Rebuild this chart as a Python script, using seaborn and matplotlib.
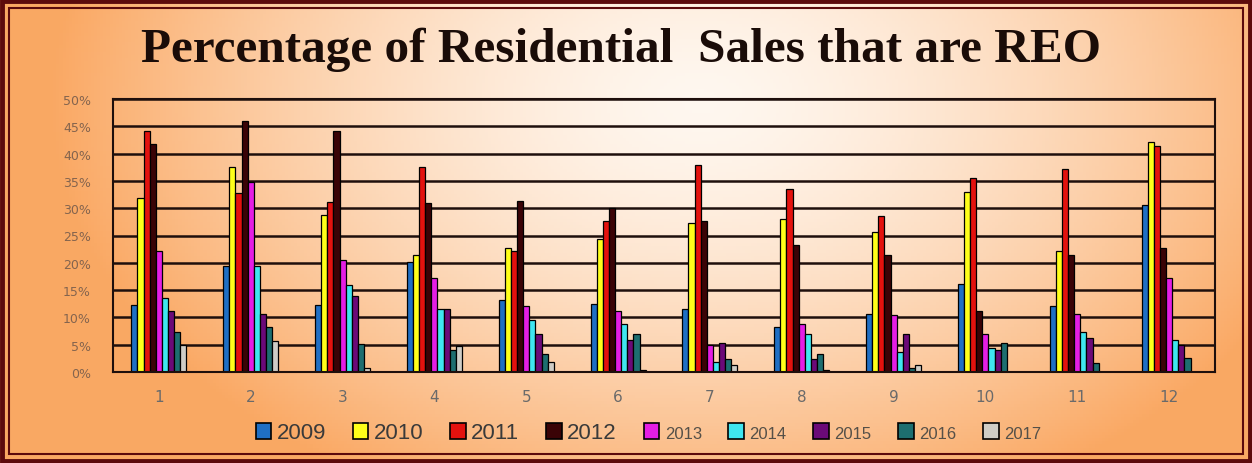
import numpy as np
import pandas as pd
import matplotlib
matplotlib.use('Agg')
import matplotlib.pyplot as plt
import seaborn as sns
from matplotlib.patches import Patch, Rectangle
from matplotlib.ticker import PercentFormatter

# data (percent of residential sales that are REO)
months = [str(m) for m in range(1, 13)]
years = ['2009', '2010', '2011', '2012', '2013', '2014', '2015', '2016', '2017']
y2009 = [12.3, 19.4, 12.3, 20.1, 13.2, 12.5, 11.6, 8.3, 10.7, 16.1, 12.0, 30.6]
y2010 = [31.9, 37.5, 28.8, 21.4, 22.7, 24.4, 27.2, 28.1, 25.6, 33.0, 22.2, 42.2]
y2011 = [44.2, 32.7, 31.2, 37.5, 22.2, 27.7, 38.0, 33.6, 28.6, 35.5, 37.2, 41.4]
y2012 = [41.7, 45.9, 44.2, 31.0, 31.4, 30.0, 27.7, 23.2, 21.5, 11.2, 21.5, 22.7]
y2013 = [22.2, 34.8, 20.5, 17.2, 12.0, 11.2, 4.9, 8.7, 10.4, 7.0, 10.7, 17.3]
y2014 = [13.5, 19.4, 16.0, 11.5, 9.6, 8.7, 1.9, 7.0, 3.7, 4.4, 7.4, 5.8]
y2015 = [11.2, 10.7, 14.0, 11.5, 7.0, 5.9, 5.4, 2.4, 7.0, 4.1, 6.3, 4.9]
y2016 = [7.4, 8.2, 5.2, 4.0, 3.3, 7.0, 2.4, 3.3, 0.7, 5.4, 1.7, 2.6]
y2017 = [4.9, 5.7, 0.7, 4.8, 1.9, 0.3, 1.3, 0.3, 1.2, 0.0, 0.0, 0.0]
series = [y2009, y2010, y2011, y2012, y2013, y2014, y2015, y2016, y2017]

colors = ['#1f6fc4', '#ffff1a', '#e3120e', '#3a0306', '#e41ee4',
          '#3fe6f0', '#6b0a78', '#1d6e70', '#cfcdc6']

df = pd.DataFrame({
    'month': np.repeat([months], len(years), axis=0).ravel(),
    'year': np.repeat(years, len(months)),
    'pct': np.concatenate(series),
})

fig = plt.figure(figsize=(12.52, 4.64), dpi=100)

# orange-to-cream background gradient
bg = fig.add_axes([0, 0, 1, 1], zorder=-10)
gx, gy = np.meshgrid(np.linspace(0, 1, 400), np.linspace(0, 1, 150))
d = np.sqrt(((gx - 0.56) / 0.52) ** 2 + ((gy - 0.78) / 0.95) ** 2)
t = np.clip(d, 0, 1) ** 1.5
light = np.array([1.0, 0.97, 0.94])
orange = np.array([0.98, 0.66, 0.39])
img = light[None, None, :] * (1 - t[..., None]) + orange[None, None, :] * t[..., None]
bg.imshow(img, extent=[0, 1, 0, 1], origin='lower', aspect='auto')
bg.set_axis_off()

# maroon double frame
fig.patches.append(Rectangle((2 / 1252, 2 / 464), 1248 / 1252, 460 / 464, transform=fig.transFigure,
                             fill=False, edgecolor='#5c0a0c', linewidth=3.5))
fig.patches.append(Rectangle((9 / 1252, 9 / 464), 1234 / 1252, 446 / 464, transform=fig.transFigure,
                             fill=False, edgecolor='#5c0a0c', linewidth=1.5))

ax = fig.add_axes([113 / 1252, 1 - 373 / 464, 1102 / 1252, 273 / 464])
ax.set_facecolor('none')
sns.barplot(data=df, x='month', y='pct', hue='year', palette=colors, width=0.6,
            edgecolor='black', linewidth=0.9, saturation=1, legend=False, ax=ax)

ax.set_ylim(0, 50)
ax.set_yticks(np.arange(0, 51, 5))
ax.yaxis.set_major_formatter(PercentFormatter(decimals=0))
ax.set_xlim(-0.5, 11.5)
ax.grid(axis='y', color='#1e0f0c', linewidth=1.8)
ax.set_axisbelow(True)
for s in ax.spines.values():
    s.set_color('#1e0f0c')
    s.set_linewidth(1.5)
ax.set_xlabel('')
ax.set_ylabel('')
ax.tick_params(axis='y', length=0, pad=16, labelsize=9, labelcolor='#84644e')
ax.tick_params(axis='x', length=0, pad=12, labelsize=11, labelcolor='#6a6a6a')

fig.suptitle('Percentage of Residential  Sales that are REO', x=0.496, y=1 - 50 / 464, va='center',
             fontsize=35.5, fontweight='bold', family='Liberation Serif', color='#1a0c08')

handles = [Patch(facecolor=c, edgecolor='black', linewidth=1.2) for c in colors]
leg = fig.legend(handles, years, loc='center', bbox_to_anchor=(0.518, 1 - 434 / 464), ncol=9,
                 frameon=False, prop={'family': 'Liberation Sans', 'size': 16},
                 handlelength=0.7, handleheight=0.7, handletextpad=0.25, columnspacing=1.2)
for txt in leg.get_texts():
    txt.set_color('#3a3a3a')
for txt in leg.get_texts()[4:]:
    txt.set_fontsize(12)
    txt.set_color('#555048')

plt.savefig('out.png', dpi=100)
